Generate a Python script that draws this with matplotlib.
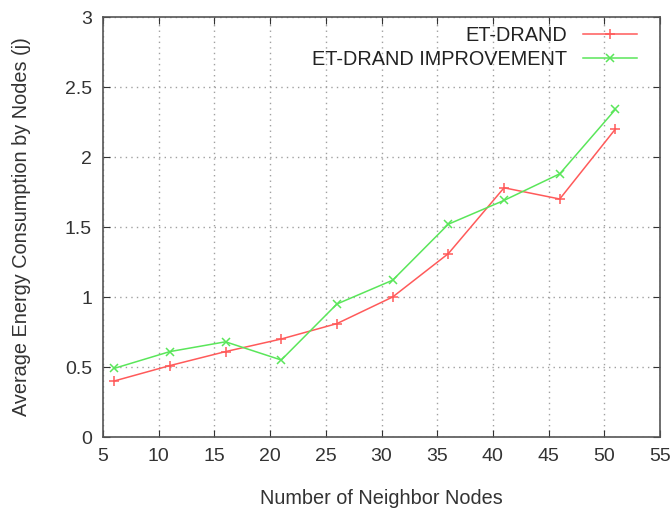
import matplotlib
matplotlib.use("Agg")
import matplotlib.pyplot as plt

plt.rcParams['font.family'] = ['Liberation Sans', 'DejaVu Sans']

neighbors = [6, 11, 16, 21, 26, 31, 36, 41, 46, 51]
et_drand = [0.40, 0.51, 0.61, 0.70, 0.81, 1.00, 1.31, 1.78, 1.70, 2.20]
et_drand_impr = [0.49, 0.61, 0.68, 0.55, 0.95, 1.12, 1.52, 1.69, 1.88, 2.34]
x_ticks = [5, 10, 15, 20, 25, 30, 35, 40, 45, 50, 55]
y_ticks = [0, 0.5, 1, 1.5, 2, 2.5, 3]
y_ticklabels = ['0', '0.5', '1', '1.5', '2', '2.5', '3']

fig = plt.figure(figsize=(6.72, 5.08), dpi=100)
ax = fig.add_axes([103/672, 71/508, 557/672, 420/508])

ax.plot(neighbors, et_drand, color='#ff5a5a', lw=1.1, marker='+', ms=7, mew=1.1, label='ET-DRAND')
ax.plot(neighbors, et_drand_impr, color='#5ae65a', lw=1.1, marker='x', ms=6, mew=1.1, label='ET-DRAND IMPROVEMENT')

ax.set_xlim(5, 55)
ax.set_ylim(0, 3)
ax.set_xticks(x_ticks)
ax.set_xticklabels([str(t) for t in x_ticks])
ax.set_yticks(y_ticks)
ax.set_yticklabels(y_ticklabels)
ax.grid(True, color='#a0a0a0', linestyle=(0, (1, 3)), lw=1)
ax.tick_params(direction='in', top=True, right=True, length=5, labelsize=14, colors='#333333', pad=8)
for s in ax.spines.values():
    s.set_color('#555555')
    s.set_linewidth(1.2)

ax.set_xlabel('Number of Neighbor Nodes', fontsize=14.3, color='#333333', labelpad=17)
ax.set_ylabel('Average Energy Consumption by Nodes (j)', fontsize=14.3, color='#333333', labelpad=24)

leg = ax.legend(loc='upper right', frameon=False, markerfirst=False, fontsize=14.3,
                handlelength=2.7, borderaxespad=0.0, borderpad=0.0, labelspacing=0.25,
                handletextpad=0.8, bbox_to_anchor=(0.9587, 0.978))
for t in leg.get_texts():
    t.set_color('#222222')

fig.savefig('out.png', dpi=100)
